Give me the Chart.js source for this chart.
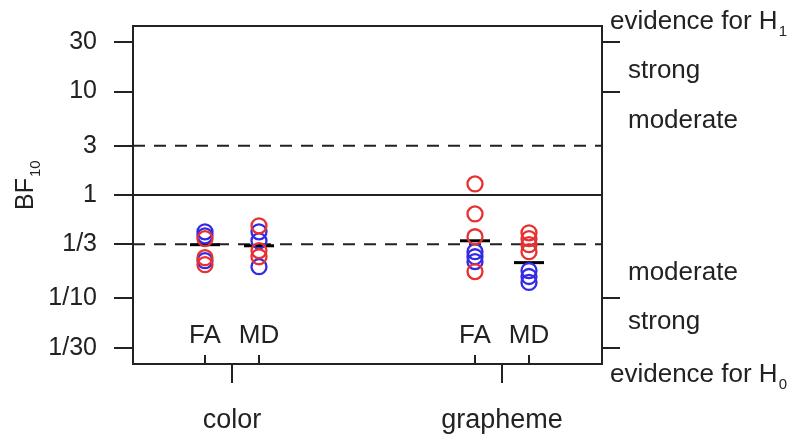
<!DOCTYPE html>
<html>
<head>
<meta charset="utf-8">
<script src="https://cdn.jsdelivr.net/npm/chart.js@4.4.1/dist/chart.umd.min.js"></script>
<style>
  body { margin: 0; background: #fff; }
  #wrap { width: 794px; height: 436px; }
</style>
</head>
<body>
<div id="wrap"><canvas id="bfChart"></canvas></div>
<script>
// categories
const groups = ['color', 'grapheme'];
const measures = ['FA', 'MD'];
const groupCenters = [1, 6];
const measureOffsets = [-0.5, 0.5];

// axis ticks
const yTickValues = [1/30, 1/10, 1/3, 1, 3, 10, 30];
const yTickLabels = ['1/30', '1/10', '1/3', '1', '3', '10', '30'];
const rightTickValues = [30, 10, 1/10, 1/30];
const evidenceLabels = ['strong', 'moderate', 'moderate', 'strong'];
const evidenceAt = [16.5, 5.48, 0.183, 0.062];

// reference lines
const solidLines = [1];
const dashedLines = [3, 1/3];

// BF10 per subject
const colorFARed = [0.378, 0.248, 0.212];
const colorFABlue = [0.441, 0.403, 0.232];
const colorMDRed = [0.504, 0.290, 0.253];
const colorMDBlue = [0.441, 0.361, 0.203];
const graphemeFARed = [1.28, 0.656, 0.395, 0.182];
const graphemeFABlue = [0.283, 0.253, 0.227];
const graphemeMDRed = [0.431, 0.378, 0.331, 0.283];
const graphemeMDBlue = [0.186, 0.163, 0.143];
// colorFA, colorMD, graphemeFA, graphemeMD
const medianBF = [0.331, 0.323, 0.361, 0.222];

const ink = '#222';
const red = 'rgb(232,48,48)';
const blue = 'rgb(52,42,228)';
const font = "'Liberation Sans', Arial, sans-serif";

const columns = [
  [colorFARed, colorFABlue],
  [colorMDRed, colorMDBlue],
  [graphemeFARed, graphemeFABlue],
  [graphemeMDRed, graphemeMDBlue]
];

function columnX(i) {
  return groupCenters[Math.floor(i / 2)] + measureOffsets[i % 2];
}

let datasets = [];
columns.forEach((col, i) => {
  const xv = columnX(i);
  datasets.push({
    data: col[0].map(v => ({x: xv, y: v})),
    borderColor: red
  });
  datasets.push({
    data: col[1].map(v => ({x: xv, y: v})),
    borderColor: blue
  });
});
datasets.forEach(d => {
  d.backgroundColor = 'rgba(0,0,0,0)';
  d.pointRadius = 7.5;
  d.pointBorderWidth = 2.3;
});
datasets.push({
  data: medianBF.map((v, i) => ({x: columnX(i), y: v})),
  pointStyle: 'line',
  pointRadius: 15,
  pointBorderWidth: 3,
  borderColor: '#000'
});

const decorations = {
  id: 'decorations',
  beforeDatasetsDraw(chart) {
    const {ctx, chartArea: a, scales} = chart;
    ctx.save();
    ctx.strokeStyle = ink;
    ctx.lineWidth = 2;
    solidLines.forEach(v => {
      const py = scales.y.getPixelForValue(v);
      ctx.beginPath(); ctx.moveTo(a.left, py); ctx.lineTo(a.right, py); ctx.stroke();
    });
    ctx.setLineDash([12, 9]);
    dashedLines.forEach(v => {
      const py = scales.y.getPixelForValue(v);
      ctx.beginPath(); ctx.moveTo(a.left, py); ctx.lineTo(a.right, py); ctx.stroke();
    });
    ctx.restore();
  },
  afterDraw(chart) {
    const {ctx, chartArea: a, scales} = chart;
    ctx.save();
    ctx.strokeStyle = ink;
    ctx.fillStyle = ink;
    ctx.lineWidth = 2;
    // top of the box
    ctx.beginPath(); ctx.moveTo(a.left - 1, a.top); ctx.lineTo(a.right + 1, a.top); ctx.stroke();

    // inner ticks and FA / MD labels
    ctx.font = '26px ' + font;
    ctx.textAlign = 'center';
    ctx.textBaseline = 'alphabetic';
    for (let i = 0; i < columns.length; i++) {
      const px = scales.x.getPixelForValue(columnX(i));
      ctx.beginPath(); ctx.moveTo(px, a.bottom); ctx.lineTo(px, a.bottom - 9); ctx.stroke();
      ctx.fillText(measures[i % 2], px, a.bottom - 21);
    }

    // right side evidence labels
    ctx.textAlign = 'left';
    const rx = a.right + 26;
    evidenceLabels.forEach((t, i) => {
      ctx.fillText(t, rx, scales.y2.getPixelForValue(evidenceAt[i]) + 9);
    });
    subText(ctx, 'evidence for H', '1', a.right + 8, a.top + 3, 26, 15);
    subText(ctx, 'evidence for H', '0', a.right + 8, a.bottom + 18, 26, 15);

    // y title BF10
    ctx.translate(33, 210);
    ctx.rotate(-Math.PI / 2);
    subText(ctx, 'BF', '10', 0, 0, 25, 15);
    ctx.restore();
  }
};

function subText(ctx, main, sub, x, y, size, subSize) {
  ctx.textAlign = 'left';
  ctx.textBaseline = 'alphabetic';
  ctx.font = size + 'px ' + font;
  ctx.fillText(main, x, y);
  const w = ctx.measureText(main).width;
  ctx.font = subSize + 'px ' + font;
  ctx.fillText(sub, x + w + 1, y + 7);
}

const axisGrid = {
  drawOnChartArea: false,
  color: ink,
  lineWidth: 2
};

function fitVertical(width) {
  return axis => {
    axis.width = width;
    axis.paddingTop = 0;
    axis.paddingBottom = 0;
  };
}

new Chart(document.getElementById('bfChart'), {
  type: 'scatter',
  data: { datasets: datasets },
  options: {
    responsive: true,
    maintainAspectRatio: false,
    animation: false,
    events: [],
    layout: { padding: { top: 26, left: 0, right: 0, bottom: 0 } },
    plugins: {
      legend: { display: false },
      tooltip: { enabled: false }
    },
    scales: {
      x: {
        type: 'linear',
        min: -0.833,
        max: 7.852,
        afterBuildTicks: axis => { axis.ticks = groupCenters.map(v => ({value: v})); },
        afterFit: axis => { axis.height = 72; axis.paddingLeft = 0; axis.paddingRight = 0; },
        ticks: {
          callback: v => groups[groupCenters.indexOf(v)],
          font: { family: font, size: 27 },
          color: ink,
          padding: 21,
          maxRotation: 0
        },
        grid: Object.assign({ tickLength: 19 }, axisGrid),
        border: { display: true, color: ink, width: 2 }
      },
      y: {
        type: 'logarithmic',
        position: 'left',
        min: 1 / 43,
        max: 43,
        afterBuildTicks: axis => { axis.ticks = yTickValues.map(v => ({value: v})); },
        afterFit: fitVertical(133),
        ticks: {
          callback: v => yTickLabels[yTickValues.indexOf(v)],
          font: { family: font, size: 25 },
          color: ink,
          padding: 17
        },
        grid: Object.assign({ tickLength: 19 }, axisGrid),
        border: { display: true, color: ink, width: 2 }
      },
      y2: {
        type: 'logarithmic',
        position: 'right',
        min: 1 / 43,
        max: 43,
        afterBuildTicks: axis => { axis.ticks = rightTickValues.map(v => ({value: v})); },
        afterFit: fitVertical(192),
        ticks: { callback: () => '', padding: 0 },
        grid: Object.assign({ tickLength: 18 }, axisGrid),
        border: { display: true, color: ink, width: 2 }
      }
    }
  },
  plugins: [decorations]
});
</script>
</body>
</html>
